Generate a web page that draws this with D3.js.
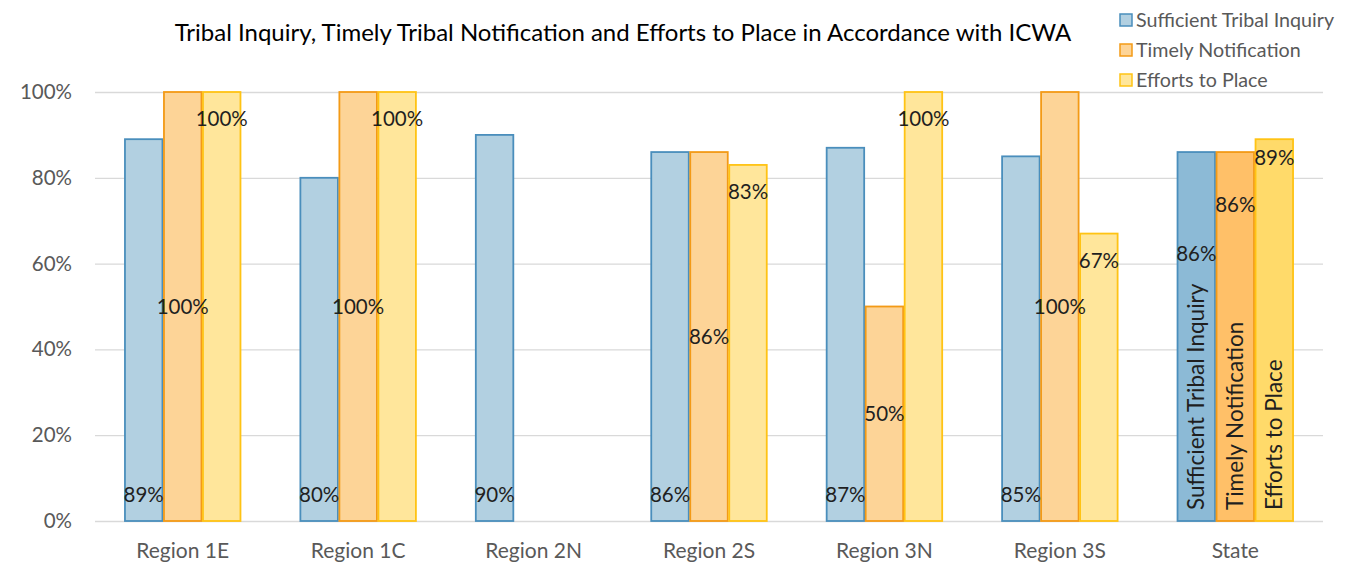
<!DOCTYPE html>
<html>
<head>
<meta charset="utf-8">
<script src="https://cdn.jsdelivr.net/npm/d3@7"></script>
<style>
    body { margin: 0; background: #fff; }
    svg { font-family: Lato, "Open Sans", sans-serif; }
</style>
</head>
<body>
<svg id="chart"></svg>
<script>
const categories = ["Region 1E", "Region 1C", "Region 2N", "Region 2S", "Region 3N", "Region 3S", "State"];
const seriesNames = ["Sufficient Tribal Inquiry", "Timely Notification", "Efforts to Place"];
const inquiry = [89, 80, 90, 86, 87, 85, 86];
const notification = [100, 100, null, 86, 50, 100, 86];
const effortsToPlace = [100, 100, null, 83, 100, 67, 89];
const yTicks = [0, 20, 40, 60, 80, 100];
const title = "Tribal Inquiry, Timely Tribal Notification and Efforts to Place in Accordance with ICWA";

const width = 1349, height = 568;
const margin = {top: 92, right: 26, bottom: 47, left: 95};

const fills = ["#b2d0e1", "#fdd497", "#ffe69b"];
const stateFills = ["#8cbad6", "#ffc068", "#ffda6a"];
const strokes = ["#4a8ebc", "#f39a16", "#ffc314"];

const svg = d3.select("#chart").attr("width", width).attr("height", height);

const x = d3.scaleBand()
    .domain(categories)
    .range([margin.left, width - margin.right])
    .paddingInner(0.333)
    .paddingOuter(0.1665);
const xs = d3.scaleBand().domain(d3.range(3)).range([0, x.bandwidth()]);
const y = d3.scaleLinear().domain([0, 100]).range([height - margin.bottom, margin.top]);

// gridlines
svg.append("g")
    .selectAll("line")
    .data(yTicks)
    .enter().append("line")
    .attr("x1", margin.left).attr("x2", width - margin.right)
    .attr("y1", d => y(d) + 0.5).attr("y2", d => y(d) + 0.5)
    .attr("stroke", "#d9d9d9").attr("stroke-width", d => d === 0 ? 1.5 : 1.3);

// y axis labels
svg.append("g")
    .attr("transform", `translate(${margin.left - 23},0)`)
    .call(d3.axisLeft(y).tickValues(yTicks).tickFormat(d => d + "%").tickSize(0))
    .call(g => g.select(".domain").remove())
    .selectAll("text")
    .attr("x", 0)
    .attr("fill", "#595959")
    .style("font-size", "20.5px")
    .style("font-family", "Lato, sans-serif");

// x axis labels
svg.append("g")
    .attr("transform", `translate(0,${height - margin.bottom + 19})`)
    .call(d3.axisBottom(x).tickSize(0))
    .call(g => g.select(".domain").remove())
    .selectAll("text")
    .attr("fill", "#595959")
    .style("font-size", "21px")
    .style("font-family", "Lato, sans-serif");

const rows = [];
[inquiry, notification, effortsToPlace].forEach((vals, s) => {
    vals.forEach((v, i) => {
        if (v != null) rows.push({cat: categories[i], s: s, v: v, state: categories[i] === "State"});
    });
});

svg.append("g")
    .selectAll("rect")
    .data(rows)
    .enter().append("rect")
    .attr("x", d => x(d.cat) + xs(d.s) + 0.75)
    .attr("y", d => y(d.v))
    .attr("width", xs.bandwidth() - 1.5)
    .attr("height", d => y(0) - y(d.v))
    .attr("fill", d => d.state ? stateFills[d.s] : fills[d.s])
    .attr("stroke", d => strokes[d.s])
    .attr("stroke-width", 1.8);

// value labels: inside base, center, inside end (State labels sit differently)
const stateOffsets = [102, 53, 18];
function labelY(d) {
    if (d.state) return y(d.v) + stateOffsets[d.s];
    if (d.s === 0) return y(0) - 26;
    if (d.s === 1) return (y(0) + y(d.v)) / 2;
    return y(d.v) + 27;
}

svg.append("g")
    .selectAll("text")
    .data(rows)
    .enter().append("text")
    .attr("x", d => x(d.cat) + xs(d.s) + xs.bandwidth() / 2)
    .attr("y", labelY)
    .attr("dy", "0.36em")
    .attr("text-anchor", "middle")
    .attr("fill", "#1f1f1f")
    .style("font-size", "20.5px")
    .text(d => d.v + "%");

// series names written up the State bars
svg.append("g")
    .selectAll("text")
    .data(rows.filter(d => d.state))
    .enter().append("text")
    .attr("transform", d => `translate(${x(d.cat) + xs(d.s) + xs.bandwidth() / 2 + 8},${y(0) - 11}) rotate(-90)`)
    .attr("text-anchor", "start")
    .attr("fill", "#1f1f1f")
    .style("font-size", "22.5px")
    .text(d => seriesNames[d.s]);

// title
svg.append("text")
    .attr("x", 623).attr("y", 41)
    .attr("text-anchor", "middle")
    .attr("fill", "#000")
    .style("font-size", "24px")
    .text(title);

// legend
const legend = svg.append("g")
    .selectAll("g")
    .data(seriesNames)
    .enter().append("g")
    .attr("transform", (d, i) => `translate(1120,${20 + i * 30})`);

legend.append("rect")
    .attr("x", 0).attr("y", -6)
    .attr("width", 12).attr("height", 12)
    .attr("fill", (d, i) => fills[i])
    .attr("stroke", (d, i) => strokes[i])
    .attr("stroke-width", 1.5);

legend.append("text")
    .attr("x", 16).attr("y", 0)
    .attr("dy", "0.36em")
    .attr("fill", "#595959")
    .style("font-size", "19.7px")
    .text(d => d);
</script>
</body>
</html>
